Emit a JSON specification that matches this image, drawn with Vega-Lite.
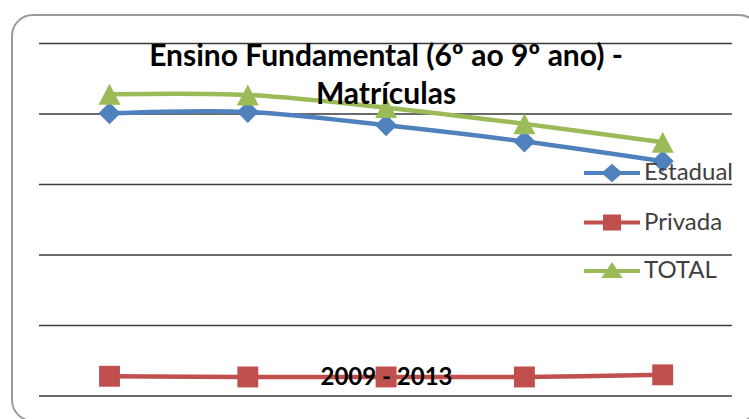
{
  "$schema": "https://vega.github.io/schema/vega-lite/v6.json",
  "width": 748,
  "height": 406,
  "autosize": {"type": "none"},
  "padding": {"left": 12, "top": 15, "right": -11, "bottom": -2},
  "background": "white",
  "config": {
    "view": {"stroke": "#9a9a9a", "strokeWidth": 2, "cornerRadius": 21},
    "font": "Lato"
  },
  "title": {
    "text": ["Ensino Fundamental (6º ao 9º ano) -", "Matrículas"],
    "font": "Lato",
    "fontSize": 30,
    "fontWeight": "bold",
    "color": "#000000",
    "anchor": "middle",
    "baseline": "top",
    "offset": 0,
    "dy": 95,
    "lineHeight": 38
  },
  "datasets": {
    "main": [
      {"year": 2009, "series": "Estadual", "value": 401000},
      {"year": 2010, "series": "Estadual", "value": 403000},
      {"year": 2011, "series": "Estadual", "value": 384000},
      {"year": 2012, "series": "Estadual", "value": 361000},
      {"year": 2013, "series": "Estadual", "value": 333000},
      {"year": 2009, "series": "Privada", "value": 28000},
      {"year": 2010, "series": "Privada", "value": 27000},
      {"year": 2011, "series": "Privada", "value": 27000},
      {"year": 2012, "series": "Privada", "value": 27000},
      {"year": 2013, "series": "Privada", "value": 30000},
      {"year": 2009, "series": "TOTAL", "value": 428000},
      {"year": 2010, "series": "TOTAL", "value": 427000},
      {"year": 2011, "series": "TOTAL", "value": 409000},
      {"year": 2012, "series": "TOTAL", "value": 386000},
      {"year": 2013, "series": "TOTAL", "value": 360000}
    ],
    "grid": [
      {"v": 0}, {"v": 100000}, {"v": 200000}, {"v": 300000}, {"v": 400000}, {"v": 500000}
    ]
  },
  "layer": [
    {
      "data": {"name": "grid"},
      "mark": {"type": "rule", "color": "#3a3a3a", "strokeWidth": 1.5},
      "encoding": {
        "y": {"field": "v", "type": "quantitative", "scale": {"domain": [-35460, 540430], "nice": false, "zero": false}, "axis": null},
        "x": {"datum": 2008.49, "type": "quantitative"},
        "x2": {"datum": 2013.5}
      }
    },
    {
      "data": {"name": "main"},
      "mark": {"type": "line", "interpolate": "cardinal", "strokeWidth": 4.5},
      "encoding": {
        "x": {
          "field": "year", "type": "quantitative",
          "scale": {"domain": [2008.295, 2013.7035], "nice": false, "zero": false},
          "axis": {
            "title": "2009 - 2013", "labels": false, "ticks": false, "domain": false, "grid": false,
            "titleFont": "Lato", "titleFontSize": 24, "titleFontWeight": "bold", "titleColor": "#000000",
            "titleY": -44, "titleBaseline": "middle", "zindex": 1
          }
        },
        "y": {"field": "value", "type": "quantitative", "axis": null},
        "color": {
          "field": "series", "type": "nominal",
          "scale": {"domain": ["Estadual", "Privada", "TOTAL"], "range": ["#4F81BD", "#C0504D", "#9BBB59"]},
          "legend": null
        }
      }
    },
    {
      "data": {"name": "main"},
      "mark": {"type": "point", "filled": true, "opacity": 1, "size": 484},
      "encoding": {
        "x": {"field": "year", "type": "quantitative"},
        "y": {"field": "value", "type": "quantitative"},
        "color": {"field": "series", "type": "nominal", "legend": null},
        "shape": {
          "field": "series", "type": "nominal",
          "scale": {
            "domain": ["Estadual", "Privada", "TOTAL"],
            "range": ["M0,-1L1,0L0,1L-1,0Z", "M-0.95,-0.95H0.95V0.95H-0.95Z", "M0,-0.95L1,0.95L-1,0.95Z"]
          },
          "legend": null
        }
      }
    },
    {
      "data": {"name": "main"},
      "mark": {"type": "point", "filled": true, "opacity": 0, "size": 400, "strokeWidth": 4},
      "encoding": {
        "x": {"field": "year", "type": "quantitative"},
        "y": {"field": "value", "type": "quantitative"},
        "fill": {
          "field": "series", "type": "nominal",
          "scale": {"domain": ["Estadual", "Privada", "TOTAL"], "range": ["#4F81BD", "#C0504D", "#9BBB59"]},
          "legend": {
            "title": null, "orient": "none", "legendX": 588, "legendY": 146, "padding": 0,
            "labelFont": "Lato", "labelFontSize": 24, "labelColor": "#404040", "labelOffset": 20,
            "rowPadding": 20.5, "symbolSize": 400, "symbolStrokeWidth": 4, "symbolOpacity": 1
          }
        },
        "stroke": {
          "field": "series", "type": "nominal",
          "scale": {"domain": ["Estadual", "Privada", "TOTAL"], "range": ["#4F81BD", "#C0504D", "#9BBB59"]},
          "legend": {
            "title": null, "orient": "none", "legendX": 588, "legendY": 146, "padding": 0,
            "labelFont": "Lato", "labelFontSize": 24, "labelColor": "#404040", "labelOffset": 20,
            "rowPadding": 20.5, "symbolSize": 400, "symbolStrokeWidth": 4, "symbolOpacity": 1
          }
        },
        "shape": {
          "field": "series", "type": "nominal",
          "scale": {
            "domain": ["Estadual", "Privada", "TOTAL"],
            "range": [
              "M-2.8,0H2.8M0,-0.65L0.75,0L0,0.65L-0.75,0Z",
              "M-2.8,0H2.8M-0.7,-0.6H0.7V0.6H-0.7Z",
              "M-2.8,0H2.8M0,-0.55L0.7,0.5L-0.7,0.5Z"
            ]
          },
          "legend": {
            "title": null, "orient": "none", "legendX": 588, "legendY": 146, "padding": 0,
            "labelFont": "Lato", "labelFontSize": 24, "labelColor": "#404040", "labelOffset": 20,
            "rowPadding": 20.5, "symbolSize": 400, "symbolStrokeWidth": 4, "symbolOpacity": 1
          }
        }
      }
    }
  ],
  "resolve": {"scale": {"shape": "independent", "fill": "independent", "stroke": "independent"}}
}
